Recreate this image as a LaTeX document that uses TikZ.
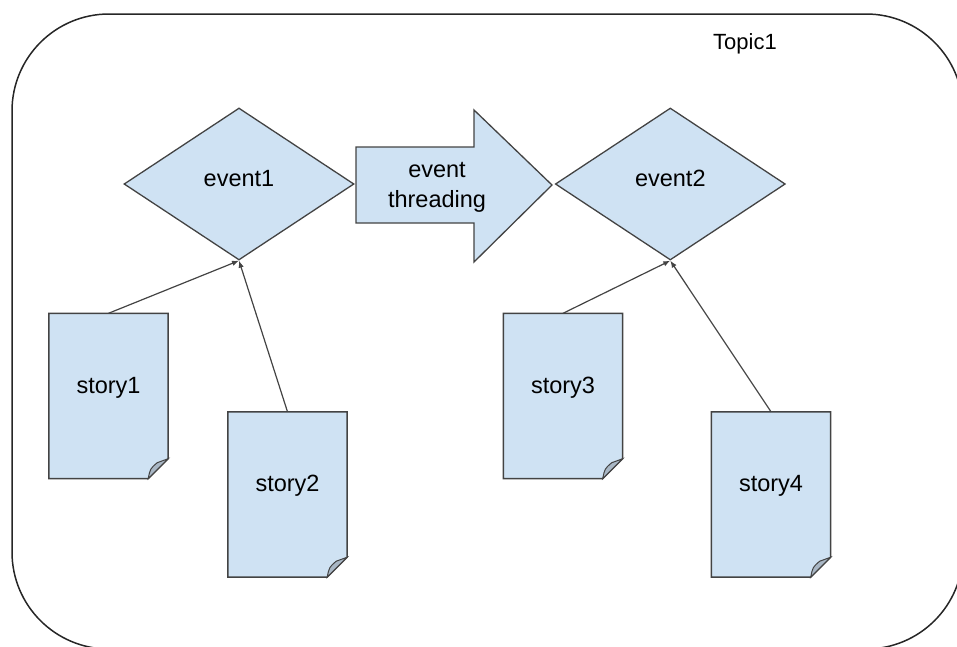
\documentclass[tikz,border=0pt]{standalone}
\usepackage{fontspec}
\setmainfont{Liberation Sans}
\usetikzlibrary{arrows.meta,positioning,shapes.geometric}
\definecolor{paleblue}{HTML}{CFE2F3}
\definecolor{edgegray}{HTML}{434343}
\definecolor{curlgray}{HTML}{A9B7C5}
\pgfdeclarelayer{background}
\pgfsetlayers{background,main}

\begin{document}
\begin{tikzpicture}[x=1pt,y=-1pt,
    every node/.style={font=\fontsize{23.5}{30}\selectfont,align=center},
    event/.style={diamond,draw=edgegray,line width=1.3pt,fill=paleblue,inner sep=0pt,minimum width=230pt,minimum height=152pt},
    story/.style={inner sep=0pt,minimum width=119pt,minimum height=165pt,text depth=22pt},
    page/.style={draw=edgegray,line width=1.5pt,fill=paleblue},
    link/.style={-{Latex[length=7pt,width=5.5pt]},draw=edgegray,line width=1.2pt}]
  \clip (0,0) rectangle (957,646);
  % topic frame, runs off the right and bottom edge
  \draw[line width=1.5pt,draw=black!85,rounded corners=97pt] (12,14) rectangle (963,649);
  \node (topic) at (745,44) [font=\fontsize{22}{26}\selectfont] {Topic1};

  \node[event,text depth=12pt] (event1) at (239,184) {event1};
  \node[event,text depth=12pt,right=200pt of event1] (event2) {event2};

  % block arrow between the two events
  \draw[page,line width=1.3pt] (356,147) -- (474,147) -- (474,110) -- (552,185)
    -- (474,262) -- (474,223) -- (356,223) -- cycle;
  \node (threading) at (437,187) {event\\threading};

  \node[story] (story1) at (108.5,396) {story1};
  \node[story] (story2) at (287.5,494.5) {story2};
  \node[story] (story3) at (563,396) {story3};
  \node[story] (story4) at (771,494.5) {story4};

  % paper sheets with a curled corner
  \begin{pgfonlayer}{background}
    \foreach \s in {story1,story2,story3,story4}{
      \draw[page] (\s.north west) -- (\s.north east) -- ([yshift=20pt]\s.south east)
        -- ([xshift=-20pt]\s.south east) -- (\s.south west) -- cycle;
      \draw[draw=edgegray,line width=1pt,fill=curlgray] ([xshift=-20pt]\s.south east)
        .. controls ([xshift=-18pt,yshift=10pt]\s.south east) .. ([xshift=-11pt,yshift=16pt]\s.south east)
        -- ([yshift=20pt]\s.south east) -- cycle;
    }
  \end{pgfonlayer}

  \draw[link] (story1.north) -- (event1.south);
  \draw[link] (story2.north) -- (event1.south);
  \draw[link] (story3.north) -- (event2.south);
  \draw[link] (story4.north) -- (event2.south);
\end{tikzpicture}
\end{document}
